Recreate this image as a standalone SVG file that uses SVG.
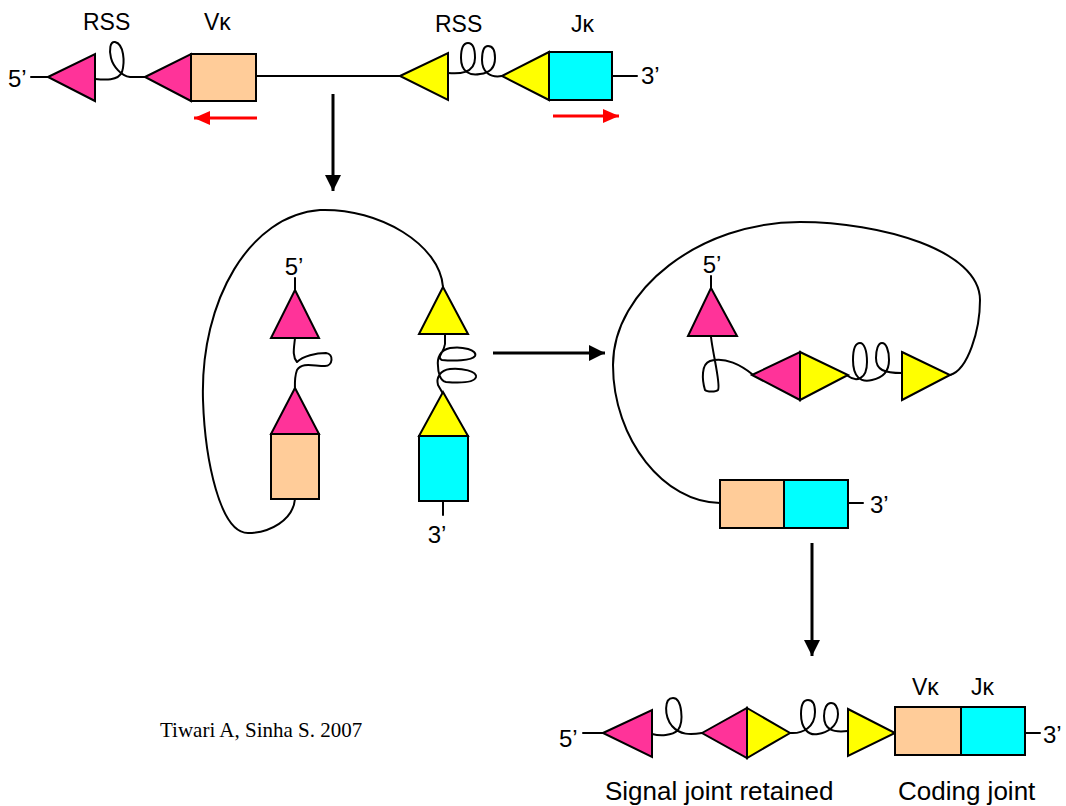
<svg xmlns="http://www.w3.org/2000/svg" width="1066" height="806" viewBox="0 0 1066 806">
<style>
.pk{fill:#FF3399;stroke:#000;stroke-width:2;stroke-linejoin:miter}
.yl{fill:#FFFF00;stroke:#000;stroke-width:2}
.pc{fill:#FFCC99;stroke:#000;stroke-width:2}
.cy{fill:#00FFFF;stroke:#000;stroke-width:2}
.ln{fill:none;stroke:#000;stroke-width:2;stroke-linecap:round;stroke-linejoin:round}
.lb{font-family:"Liberation Sans",Arial,sans-serif;font-size:23px;fill:#000}
.nm{font-family:"Liberation Sans",Arial,sans-serif;font-size:24px;fill:#000}
.big{font-family:"Liberation Sans",Arial,sans-serif;font-size:26px;fill:#000}
.cit{font-family:"Liberation Serif","Times New Roman",serif;font-size:21px;fill:#000}
.ar{fill:none;stroke:#000;stroke-width:3}
.ra{fill:none;stroke:#FF0000;stroke-width:3}
</style>
<defs>
<marker id="ah" viewBox="0 0 16 16" refX="16" refY="8" markerWidth="16" markerHeight="16" markerUnits="userSpaceOnUse" orient="auto"><path d="M0,0 L16,8 L0,16 Z" fill="#000"/></marker>
<marker id="rh" viewBox="0 0 16 16" refX="16" refY="8" markerWidth="16" markerHeight="16" markerUnits="userSpaceOnUse" orient="auto"><path d="M0,1 L16,8 L0,15 Z" fill="#FF0000"/></marker>
</defs>
<rect width="1066" height="806" fill="#fff"/>

<g id="germline">
<text class="nm" x="8" y="87">5’</text>
<line class="ln" x1="31" y1="77" x2="48" y2="77"/>
<polygon class="pk" points="48,77 95,54 95,101"/>
<path class="ln" d="M95,79 C105,80 118,81 122,72 C125,62 124,44 115,42 C110,41 109,50 111,58 C113,66 121,76 130,77 L145,77"/>
<polygon class="pk" points="145,77 191,54 191,101"/>
<rect class="pc" x="191" y="54" width="65" height="47"/>
<line class="ln" x1="256" y1="76" x2="400" y2="76"/>
<polygon class="yl" points="400,76 448,53 448,100"/>
<path class="ln" d="M448,73 C458,74 475,74 475,58 C475,48 472,43 468,43 C463,43 461,50 461,58 C461,72 470,76 480,74 C490,73 495,68 495,58 C495,50 492,46 488,46 C484,46 482,52 482,60 C482,72 490,78 502,76"/>
<polygon class="yl" points="502,76 549,52 549,100"/>
<rect class="cy" x="549" y="52" width="63" height="48"/>
<line class="ln" x1="612" y1="76" x2="637" y2="76"/>
<text class="nm" x="641" y="84">3’</text>
<text class="lb" x="83" y="30">RSS</text>
<text class="lb" x="204" y="30">Vκ</text>
<text class="lb" x="435" y="32">RSS</text>
<text class="lb" x="571" y="32">Jκ</text>
<line class="ra" x1="257" y1="118" x2="194" y2="118" marker-end="url(#rh)"/>
<line class="ra" x1="553" y1="116" x2="619" y2="116" marker-end="url(#rh)"/>
</g>

<g id="hairpin">
<path class="ln" d="M295,499 C293,520 270,533 248,533 C220,533 205,460 203,400 C200,300 250,215 320,210 C380,208 440,245 443,287"/>
<text class="nm" x="294" y="275" text-anchor="middle">5’</text>
<line class="ln" x1="295" y1="278" x2="295" y2="290"/>
<polygon class="pk" points="295,290 319,338 271,338"/>
<path class="ln" d="M295,338 C294,348 292,356 297,362 C303,356 316,353 326,353 C334,354 333,366 325,366 C313,366 302,362 297,370 C294,378 295,385 295,392"/>
<polygon class="pk" points="295,388 319,434 271,434"/>
<rect class="pc" x="271" y="434" width="48" height="65"/>
<polygon class="yl" points="443,287 468,334 419,334"/>
<path class="ln" d="M445,334 L445,344 C444,352 436,358 442,360 C452,361 472,361 475,356 C478,350 462,346 450,348 C440,350 437,358 438,366 C438,372 440,381 446,382 C458,383 474,383 476,377 C477,371 462,368 450,369 C440,370 436,378 438,385 L442,392"/>
<polygon class="yl" points="443,392 468,436 419,436"/>
<rect class="cy" x="419" y="436" width="49" height="65"/>
<line class="ln" x1="443" y1="501" x2="443" y2="515"/>
<text class="nm" x="437" y="543" text-anchor="middle">3’</text>
</g>

<g id="excision">
<path class="ln" d="M950,375 C968,370 980,330 980,300 C980,250 880,222 800,222 C700,222 613,290 613,365 C613,440 665,503 720,503"/>
<text class="nm" x="712" y="273" text-anchor="middle">5’</text>
<line class="ln" x1="711" y1="276" x2="711" y2="288"/>
<polygon class="pk" points="711,288 737,336 688,336"/>
<path class="ln" d="M711,337 C713,355 721,385 718,390 C716,392 707,392 705,390 C702,380 701,364 710,361 C725,356 742,366 752,374"/>
<polygon class="pk" points="752,375 800,352 800,400"/>
<polygon class="yl" points="800,352 848,375 800,400"/>
<path class="ln" d="M848,376 C856,382 867,380 867,362 C867,350 864,343 860,343 C855,343 853,350 853,360 C853,376 860,383 872,380 C882,378 889,372 889,360 C889,350 886,343 882,343 C878,343 876,350 876,358 C876,370 884,373 902,373"/>
<polygon class="yl" points="902,352 950,375 902,400"/>
<rect class="pc" x="720" y="480" width="64" height="48"/>
<rect class="cy" x="784" y="480" width="64" height="48"/>
<line class="ln" x1="848" y1="503" x2="863" y2="503"/>
<text class="nm" x="870" y="513">3’</text>
</g>

<g id="result">
<text class="nm" x="559" y="747">5’</text>
<line class="ln" x1="583" y1="733" x2="603" y2="733"/>
<polygon class="pk" points="603,733 652,710 652,757"/>
<path class="ln" d="M652,734 C660,736 672,736 678,730 C684,722 682,698 673,698 C664,698 664,716 672,726 C680,735 690,735 702,733"/>
<polygon class="pk" points="702,733 747,708 747,758"/>
<polygon class="yl" points="747,708 790,733 747,758"/>
<path class="ln" d="M790,733 C803,734 815,727 815,712 C815,704 812,700 808,700 C803,700 801,706 801,714 C801,728 808,736 818,734 C826,733 838,727 838,714 C838,707 835,703 831,703 C827,703 824,708 824,716 C824,729 832,733 848,731"/>
<polygon class="yl" points="848,709 895,733 848,756"/>
<rect class="pc" x="895" y="707" width="66" height="48"/>
<rect class="cy" x="961" y="707" width="64" height="48"/>
<line class="ln" x1="1025" y1="733" x2="1040" y2="733"/>
<text class="nm" x="1043" y="743">3’</text>
<text class="lb" x="912" y="695">Vκ</text>
<text class="lb" x="971" y="695">Jκ</text>
<text class="big" x="605" y="800">Signal joint retained</text>
<text class="big" x="898" y="800">Coding joint</text>
</g>

<g id="connectors">
<line class="ar" x1="333" y1="94" x2="333" y2="191" marker-end="url(#ah)"/>
<line class="ar" x1="493" y1="353" x2="605" y2="353" marker-end="url(#ah)"/>
<line class="ar" x1="812" y1="543" x2="812" y2="656" marker-end="url(#ah)"/>
</g>

<text class="cit" x="160" y="737">Tiwari A, Sinha S. 2007</text>
</svg>
